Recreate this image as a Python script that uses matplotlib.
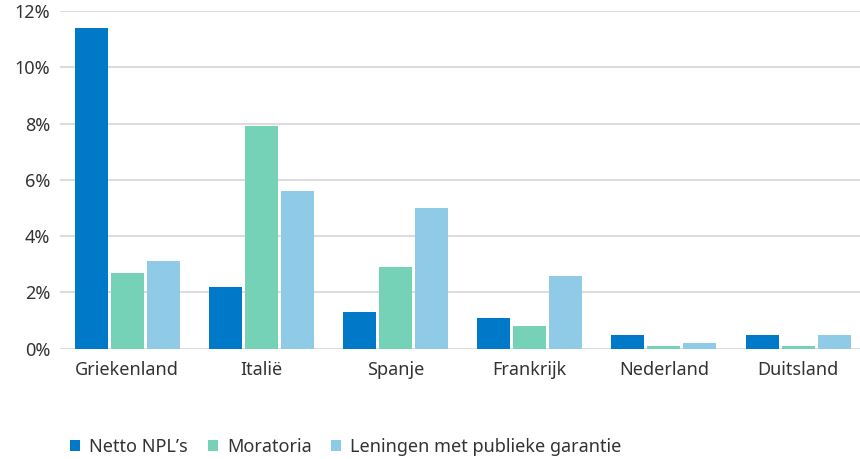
import numpy as np
import matplotlib.pyplot as plt
from matplotlib.ticker import FuncFormatter

# Data
landen = ['Griekenland', 'Italië', 'Spanje', 'Frankrijk', 'Nederland', 'Duitsland']
netto_npl = [11.4, 2.2, 1.3, 1.1, 0.5, 0.5]
moratoria = [2.7, 7.9, 2.9, 0.8, 0.1, 0.1]
publieke_garantie = [3.1, 5.6, 5.0, 2.6, 0.2, 0.5]
reeksen = ['Netto NPL\u2019s', 'Moratoria', 'Leningen met publieke garantie']
kleuren = ['#0079C8', '#76D2B6', '#8FCAE7']

plt.rcParams['font.family'] = ['Noto Sans', 'DejaVu Sans']
tekstkleur = '#333333'

fig = plt.figure(figsize=(8.6, 4.59), dpi=100)
ax = fig.add_axes([60 / 860, 0.2403, 800 / 860, 0.7357])

x = np.arange(len(landen))
breedte = 0.246
stap = 0.268
for i, (waarden, naam, kleur) in enumerate(zip([netto_npl, moratoria, publieke_garantie], reeksen, kleuren)):
    ax.bar(x + (i - 1) * stap, waarden, width=breedte, color=kleur, label=naam, zorder=3)

# groepen staan iets verder uit elkaar dan 800/6 px
ax.set_xlim(-0.5, -0.5 + 800 / 134.2)
ax.set_ylim(0, 12)
ax.set_yticks(np.arange(0, 13, 2))
ax.yaxis.set_major_formatter(FuncFormatter(lambda v, p: f'{v:.0f}%'))
ax.set_xticks(x)
ax.set_xticklabels(landen)

ax.grid(axis='y', color='#DCDCDC', linewidth=1.5, zorder=0)
for s in ax.spines.values():
    s.set_visible(False)
ax.tick_params(axis='both', length=0, labelsize=13, colors=tekstkleur)
ax.tick_params(axis='y', pad=7)
ax.tick_params(axis='x', pad=9)

fig.legend(loc='center left', bbox_to_anchor=(54 / 860, 12 / 459), ncol=3, frameon=False,
           fontsize=13, handlelength=0.55, handleheight=0.55, handletextpad=0.5,
           columnspacing=1.1, labelcolor=tekstkleur)

fig.savefig('out.png', dpi=100)
